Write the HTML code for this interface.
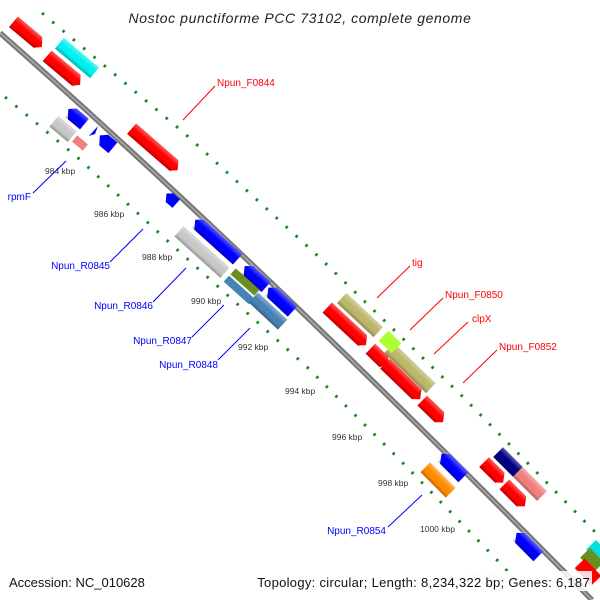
<!DOCTYPE html>
<html><head><meta charset="utf-8"><style>
html,body{margin:0;padding:0;background:#fff;}
svg{display:block;}
text{font-family:"Liberation Sans","DejaVu Sans",sans-serif;}
</style></head><body>
<svg width="600" height="600" viewBox="0 0 600 600" xmlns="http://www.w3.org/2000/svg">
<defs>
<linearGradient id="sh" x1="0" y1="0" x2="0" y2="1">
<stop offset="0" stop-color="#fff" stop-opacity="0.35"/>
<stop offset="0.4" stop-color="#fff" stop-opacity="0"/>
<stop offset="0.7" stop-color="#000" stop-opacity="0"/>
<stop offset="1" stop-color="#000" stop-opacity="0.25"/>
</linearGradient>
</defs>
<text x="300" y="23" font-size="14" font-style="italic" text-anchor="middle" fill="#222" letter-spacing="0.6">Nostoc punctiforme PCC 73102, complete genome</text>

<!-- tick lines -->
<path d="M42,13 L183,132 L292,232 L320,258 L463,397 L600,537" fill="none" stroke="#1a8a1a" stroke-width="3" stroke-dasharray="2.5 11"/>
<path d="M5,97 L77,157 L172,245 L307,367 L400,460 L500,563 L520,585" fill="none" stroke="#1a8a1a" stroke-width="3" stroke-dasharray="2.5 11"/>

<!-- backbone -->
<path d="M0,33 Q260,262 592,600" fill="none" stroke="#777" stroke-width="5.5"/>
<path d="M0,33 Q260,262 592,600" fill="none" stroke="#aaa" stroke-width="1.5"/>

<!-- forward genes -->
<g transform="translate(28,34) rotate(40) scale(1,1.15)"><polygon points="-19,-6 13,-6 19,1 13,6 -19,6" fill="#f00"/><rect x="-19" y="-6" width="34" height="12" fill="url(#sh)"/></g>
<g transform="translate(77,58) rotate(40) scale(1,1.15)"><rect x="-23" y="-6" width="46" height="12" fill="#00f0f0"/><rect x="-23" y="-6" width="46" height="12" fill="url(#sh)"/></g>
<g transform="translate(64,70) rotate(40) scale(1,1.15)"><polygon points="-22,-6 16,-6 22,1 16,6 -22,6" fill="#f00"/><rect x="-22" y="-6" width="40" height="12" fill="url(#sh)"/></g>
<g transform="translate(155,149) rotate(41) scale(1,1.15)"><polygon points="-31,-6 25,-6 31,1 25,6 -31,6" fill="#f00"/><rect x="-31" y="-6" width="58" height="12" fill="url(#sh)"/></g>
<g transform="translate(360,315) rotate(43) scale(1,1.15)"><rect x="-25" y="-6" width="50" height="12" fill="#bdb76b"/><rect x="-25" y="-6" width="50" height="12" fill="url(#sh)"/></g>
<g transform="translate(347,326) rotate(43) scale(1,1.15)"><polygon points="-27,-6 21,-6 27,1 21,6 -27,6" fill="#f00"/><rect x="-27" y="-6" width="50" height="12" fill="url(#sh)"/></g>
<g transform="translate(410,368) rotate(44) scale(1,1.15)"><rect x="-29" y="-6" width="58" height="12" fill="#bdb76b"/><rect x="-29" y="-6" width="58" height="12" fill="url(#sh)"/></g>
<g transform="translate(390,342) rotate(44) scale(1,1.15)"><rect x="-9" y="-6" width="18" height="12" fill="#adff2f"/></g>
<g transform="translate(379,357) rotate(44) scale(1,1.15)"><polygon points="-12,-6 7,-6 12,1 7,6 -12,6" fill="#f00"/><rect x="-12" y="-6" width="20" height="12" fill="url(#sh)"/></g>
<g transform="translate(403,381) rotate(44) scale(1,1.15)"><polygon points="-25,-6 19,-6 25,1 19,6 -25,6" fill="#f00"/><rect x="-25" y="-6" width="44" height="12" fill="url(#sh)"/></g>
<g transform="translate(433,411) rotate(44) scale(1,1.15)"><polygon points="-15,-6 9,-6 15,1 9,6 -15,6" fill="#f00"/><rect x="-15" y="-6" width="25" height="12" fill="url(#sh)"/></g>
<g transform="translate(508,462) rotate(45) scale(1,1.15)"><rect x="-14" y="-6" width="28" height="12" fill="#000080"/><rect x="-14" y="-6" width="28" height="12" fill="url(#sh)"/></g>
<g transform="translate(494,472) rotate(45) scale(1,1.15)"><polygon points="-14,-6 8,-6 14,1 8,6 -14,6" fill="#f00"/><rect x="-14" y="-6" width="23" height="12" fill="url(#sh)"/></g>
<g transform="translate(530,484) rotate(45) scale(1,1.15)"><rect x="-17" y="-6" width="34" height="12" fill="#f08080"/><rect x="-17" y="-6" width="34" height="12" fill="url(#sh)"/></g>
<g transform="translate(515,495) rotate(45) scale(1,1.15)"><polygon points="-15,-6 9,-6 15,1 9,6 -15,6" fill="#f00"/><rect x="-15" y="-6" width="25" height="12" fill="url(#sh)"/></g>
<g transform="translate(598,552) rotate(46) scale(1,1.15)"><rect x="-10" y="-6" width="20" height="12" fill="#00e0e0"/></g>
<g transform="translate(592,560) rotate(46) scale(1,1.15)"><rect x="-10" y="-6" width="20" height="12" fill="#6b8e23"/></g>
<g transform="translate(588,572) rotate(46) scale(1,1.15)"><rect x="-12" y="-6" width="24" height="12" fill="#f00"/></g>

<!-- reverse genes -->
<g transform="translate(76,117) rotate(40) scale(1,1.15)"><polygon points="11,-6 -5,-6 -11,-1 -5,6 11,6" fill="#00f"/><rect x="-8" y="-6" width="19" height="12" fill="url(#sh)"/></g>
<g transform="translate(63,129) rotate(40) scale(1,1.15)"><rect x="-12" y="-6" width="24" height="12" fill="#c8c8c8"/><rect x="-12" y="-6" width="24" height="12" fill="url(#sh)"/></g>
<g transform="translate(80,143) rotate(40)"><rect x="-7" y="-4" width="14" height="8" fill="#f08080"/></g>
<polygon points="89,136 98,126 95,134" fill="#00f"/>
<g transform="translate(106,142) rotate(40) scale(1,1.15)"><polygon points="9,-6 -3,-6 -9,-1 -3,6 9,6" fill="#00f"/></g>
<g transform="translate(171,199) rotate(41) scale(1,1.15)"><polygon points="7,-5 -2,-5 -7,-1 -2,5 7,5" fill="#00f"/></g>
<g transform="translate(216,240) rotate(42) scale(1,1.15)"><polygon points="29,-6 -23,-6 -29,-1 -23,6 29,6" fill="#00f"/><rect x="-26" y="-6" width="55" height="12" fill="url(#sh)"/></g>
<g transform="translate(202,252) rotate(42) scale(1,1.15)"><rect x="-31" y="-6" width="62" height="12" fill="#c8c8c8"/><rect x="-31" y="-6" width="62" height="12" fill="url(#sh)"/></g>
<g transform="translate(255,277) rotate(42) scale(1,1.15)"><polygon points="15,-6 -9,-6 -15,-1 -9,6 15,6" fill="#00f"/><rect x="-12" y="-6" width="27" height="12" fill="url(#sh)"/></g>
<g transform="translate(245,282) rotate(42)"><rect x="-16" y="-4" width="32" height="8" fill="#6b8e23"/></g>
<g transform="translate(239,290) rotate(42)"><rect x="-17" y="-4" width="34" height="8" fill="#4682b4"/></g>
<g transform="translate(280,300) rotate(43) scale(1,1.15)"><polygon points="17,-6 -11,-6 -17,-1 -11,6 17,6" fill="#00f"/><rect x="-14" y="-6" width="31" height="12" fill="url(#sh)"/></g>
<g transform="translate(268,311) rotate(43) scale(1,1.15)"><rect x="-20" y="-6" width="40" height="12" fill="#4682b4"/><rect x="-20" y="-6" width="40" height="12" fill="url(#sh)"/></g>
<g transform="translate(452,466) rotate(45) scale(1,1.15)"><polygon points="16,-6 -10,-6 -16,-1 -10,6 16,6" fill="#00f"/><rect x="-13" y="-6" width="29" height="12" fill="url(#sh)"/></g>
<g transform="translate(438,480) rotate(45) scale(1,1.15)"><rect x="-18" y="-6" width="36" height="12" fill="#ff8c00"/><rect x="-18" y="-6" width="36" height="12" fill="url(#sh)"/></g>
<g transform="translate(527,545) rotate(45) scale(1,1.15)"><polygon points="16,-6 -10,-6 -16,-1 -10,6 16,6" fill="#00f"/><rect x="-13" y="-6" width="29" height="12" fill="url(#sh)"/></g>

<!-- tick labels -->
<g font-size="8.5" fill="#333">
<text x="45" y="174">984 kbp</text>
<text x="94" y="217">986 kbp</text>
<text x="142" y="260">988 kbp</text>
<text x="191" y="304">990 kbp</text>
<text x="238" y="350">992 kbp</text>
<text x="285" y="394">994 kbp</text>
<text x="332" y="440">996 kbp</text>
<text x="378" y="486">998 kbp</text>
<text x="420" y="532">1000 kbp</text>
<text x="467" y="579" fill="#ccc">1002 kbp</text>
</g>

<!-- label lines -->
<g stroke-width="1" fill="none">
<path d="M215,86 L183,120" stroke="#f00"/>
<path d="M410,266 L377,298" stroke="#f00"/>
<path d="M443,298 L410,330" stroke="#f00"/>
<path d="M468,322 L434,354" stroke="#f00"/>
<path d="M497,350 L463,383" stroke="#f00"/>
<path d="M33,193 L66,161" stroke="#00f"/>
<path d="M110,262 L143,229" stroke="#00f"/>
<path d="M153,302 L186,268" stroke="#00f"/>
<path d="M192,337 L224,305" stroke="#00f"/>
<path d="M218,360 L250,328" stroke="#00f"/>
<path d="M388,527 L422,495" stroke="#00f"/>
</g>
<g font-size="10">
<text x="217" y="86" fill="#f00">Npun_F0844</text>
<text x="412" y="266" fill="#f00">tig</text>
<text x="445" y="298" fill="#f00">Npun_F0850</text>
<text x="472" y="322" fill="#f00">clpX</text>
<text x="499" y="350" fill="#f00">Npun_F0852</text>
<text x="31" y="200" fill="#00f" text-anchor="end">rpmF</text>
<text x="110" y="269" fill="#00f" text-anchor="end">Npun_R0845</text>
<text x="153" y="309" fill="#00f" text-anchor="end">Npun_R0846</text>
<text x="192" y="344" fill="#00f" text-anchor="end">Npun_R0847</text>
<text x="218" y="368" fill="#00f" text-anchor="end">Npun_R0848</text>
<text x="386" y="534" fill="#00f" text-anchor="end">Npun_R0854</text>
</g>

<!-- footer -->
<rect x="256" y="571" width="336" height="20" fill="#fff" fill-opacity="0.85"/>
<text x="9" y="587" font-size="13" fill="#111">Accession: NC_010628</text>
<text x="590" y="587" font-size="13" fill="#111" text-anchor="end" letter-spacing="0.3">Topology: circular; Length: 8,234,322 bp; Genes: 6,187</text>
</svg>
</body></html>
